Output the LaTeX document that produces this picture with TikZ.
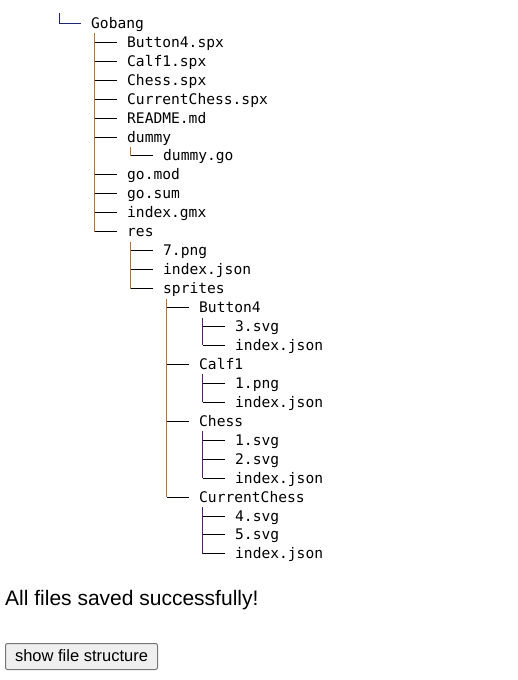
\documentclass[tikz,border=0pt]{standalone}
\usepackage{fontspec}
\usepackage{tikz}
\usepackage{xcolor}
\setmainfont{Liberation Sans}
\newfontfamily\treefont{DejaVu Sans Mono}
\definecolor{trunkbrown}{RGB}{188,112,44}
\definecolor{trunkpurple}{RGB}{86,28,128}
\definecolor{topnavy}{RGB}{30,36,110}
\definecolor{btnfill}{RGB}{239,239,239}
\definecolor{btnline}{RGB}{118,118,118}

\begin{document}
\begin{tikzpicture}[x=1pt,y=-1pt,
		entry/.style={anchor=west, inner sep=0pt, text height=10pt, text depth=0pt, font=\treefont\fontsize{14.6}{16}\selectfont},
		branch/.style={line width=1pt, black},
		trunkA/.style={line width=1pt, trunkbrown},
		trunkB/.style={line width=1pt, trunkpurple}]
		\useasboundingbox (0,0) rectangle (518,680);
		\foreach \n/\l/\t [count=\i from 0] in {gobang/0/Gobang, button4spx/1/Button4.spx, calf1spx/1/Calf1.spx, chessspx/1/Chess.spx, curchessspx/1/CurrentChess.spx, readme/1/README.md, dummy/1/dummy, dummygo/2/dummy.go, gomod/1/go.mod, gosum/1/go.sum, indexgmx/1/index.gmx, res/1/res, png7/2/7.png, resjson/2/index.json, sprites/2/sprites, button4/3/Button4, svg3/4/3.svg, bjson/4/index.json, calf1/3/Calf1, png1/4/1.png, cjson/4/index.json, chess/3/Chess, svg1/4/1.svg, svg2/4/2.svg, hjson/4/index.json, curchess/3/CurrentChess, svg4/4/4.svg, svg5/4/5.svg, ujson/4/index.json}
			\node [entry] (\n) at ({91+36*\l},{23.3+18.95*\i}) {\t};
		\coordinate (top) at (59,13.3);
		\draw [line width=1pt, topnavy] (top) |- ([xshift=-10]gobang.west);
		\foreach \a/\b/\s in {gobang/res/trunkA, dummy/dummygo/trunkA, res/sprites/trunkA, sprites/curchess/trunkA, button4/bjson/trunkB, calf1/cjson/trunkB, chess/hjson/trunkB, curchess/ujson/trunkB}
			\draw [\s] ([shift={(3.5,10)}]\a.west) -- ([xshift=3.5]\a.west |- \b.west);
		\foreach \c in {button4spx, calf1spx, chessspx, curchessspx, readme, dummy, dummygo, gomod, gosum, indexgmx, res, png7, resjson, sprites, button4, svg3, bjson, calf1, png1, cjson, chess, svg1, svg2, hjson, curchess, svg4, svg5, ujson}
			\draw [branch] ([xshift=-32.5]\c.west) -- ([xshift=-10]\c.west);
		\node [anchor=base west, inner sep=0pt, font=\fontsize{21}{24}\selectfont] (status) at (5,605) {All files saved successfully!};
		\node [draw=btnline, fill=btnfill, line width=1pt, rounded corners=2pt, minimum width=152pt, minimum height=26pt, text height=11pt, text depth=2pt, inner sep=0pt, font=\fontsize{16.5}{19}\selectfont] (showbtn) at (81.5,656.5) {show file structure};
\end{tikzpicture}
\end{document}
